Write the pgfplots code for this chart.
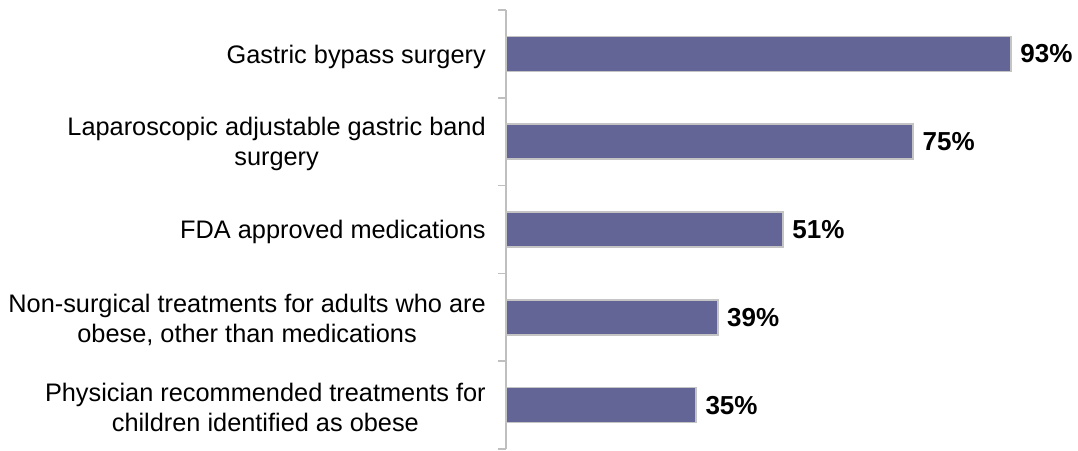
\documentclass[border=0pt]{standalone}
\usepackage{fontspec}
\setmainfont{Liberation Sans}
\usepackage{pgfplots}
\pgfplotsset{compat=1.18}
\definecolor{barfill}{HTML}{636597}
\definecolor{baredge}{HTML}{C4C4C4}
\definecolor{axgray}{HTML}{BFBFBF}
\begin{document}
\begin{tikzpicture}
\useasboundingbox (0,0) rectangle (808.5pt,337.5pt);
\begin{axis}[
  at={(379.5pt,0.75pt)}, anchor=south west,
  scale only axis, width=407.25pt, height=329.25pt,
  xmin=0, xmax=100, ymin=0.5, ymax=5.5, y dir=reverse,
  axis x line=none, axis y line*=left,
  axis line style={axgray, line width=1.2pt, -},
  ytick={1,2,3,4,5},
  yticklabels={{Gastric bypass surgery},{Laparoscopic adjustable gastric band\\surgery},{FDA approved medications},{Non-surgical treatments for adults who are\\obese, other than medications},{Physician recommended treatments for\\children identified as obese}},
  major tick length=0pt,
  yticklabel style={align=center, inner sep=0pt, yshift=-2pt, font=\fontsize{19}{22.5}\selectfont},
  yticklabel shift=15pt,
  extra y ticks={0.5,1.5,2.5,3.5,4.5,5.5}, extra y tick labels={},
  extra y tick style={major tick length=6pt, tick align=outside, tick style={axgray, line width=1.2pt}},
  xbar, bar width=26.25pt,
  clip=false,
  nodes near coords={\pgfplotspointmeta\%},
  point meta=explicit symbolic,
  nodes near coords style={anchor=west, inner sep=0pt, xshift=6.5pt, font=\fontsize{19.5}{22}\selectfont\bfseries, text=black},
]
\addplot[fill=barfill, draw=baredge, line width=1.2pt] table[meta=v] {
x y v
93 1 93
75 2 75
51 3 51
39 4 39
35 5 35
};
\end{axis}
\end{tikzpicture}
\end{document}
